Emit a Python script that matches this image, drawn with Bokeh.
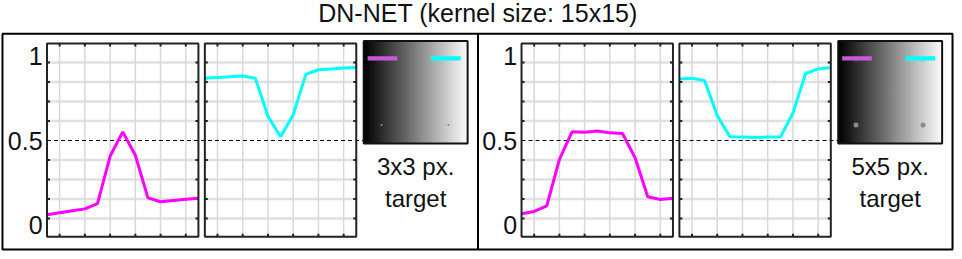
import numpy as np
from bokeh.plotting import figure
from bokeh.models import Range1d
from bokeh.core.properties import value
from bokeh.embed import file_html
from bokeh.resources import INLINE

# ---------------- data ----------------
title_text = "DN-NET (kernel size: 15x15)"
sample_idx = list(range(13))
magenta_3x3 = [0.062, 0.074, 0.086, 0.097, 0.128, 0.407, 0.551, 0.413, 0.162, 0.139, 0.146, 0.153, 0.160]
cyan_3x3 = [0.867, 0.872, 0.876, 0.880, 0.867, 0.643, 0.522, 0.651, 0.890, 0.917, 0.922, 0.927, 0.930]
magenta_5x5 = [0.068, 0.082, 0.114, 0.388, 0.551, 0.549, 0.556, 0.545, 0.541, 0.398, 0.168, 0.152, 0.160]
cyan_5x5 = [0.863, 0.867, 0.853, 0.647, 0.522, 0.520, 0.518, 0.520, 0.520, 0.662, 0.895, 0.922, 0.930]
ytick_values = [0, 0.5, 1]
ytick_labels = ["0", "0.5", "1"]
grid_y = [0.04, 0.155, 0.27, 0.385, 0.615, 0.73, 0.845, 0.96]
grid_x = [1, 3, 5, 7, 9, 11]
threshold = 0.5
target_labels = ["3x3 px.\ntarget", "5x5 px.\ntarget"]

# ---------------- layout (reference pixel space, y down) ----------------
CX0, CX1 = -1, 963          # canvas x extent
CY_TOP, CY_BOT = 2, 259      # canvas y extent (ref coords)
YD0, YD1 = -0.068, 1.072     # data value at panel bottom / top
XD0, XD1 = 0, 12

FONT = "Liberation Sans"

p = figure(width=954, height=251, output_backend="svg", toolbar_location=None,
           x_range=Range1d(CX0, CX1), y_range=Range1d(0, CY_BOT - CY_TOP),
           min_border=0, outline_line_color=None)
p.axis.visible = False
p.grid.visible = False


def cy(y):
    return CY_BOT - y


def add_panel_ranges(name, L, R, T, B):
    kx = (XD1 - XD0) / (R - L)
    p.extra_x_ranges[name] = Range1d(XD0 - (L - CX0) * kx, XD1 + (CX1 - R) * kx)
    cb, ct = cy(B), cy(T)
    ky = (YD1 - YD0) / (ct - cb)
    p.extra_y_ranges[name] = Range1d(YD0 - cb * ky, YD1 + ((CY_BOT - CY_TOP) - ct) * ky)


def draw_panel(name, L, R, T, B):
    add_panel_ranges(name, L, R, T, B)
    kw = dict(x_range_name=name, y_range_name=name)
    p.segment(x0=XD0, x1=XD1, y0=grid_y, y1=grid_y, line_color="#e0e0e0", line_width=2.5, **kw)
    p.segment(x0=grid_x, x1=grid_x, y0=YD0, y1=YD1, line_color="#d9d9d9", line_width=1.5, **kw)
    # ticks (inward)
    p.ray(x=[XD0] * len(grid_y), y=grid_y, length=3, length_units="screen", angle=0,
          line_color="#222222", line_width=2, **kw)
    p.ray(x=[XD1] * len(grid_y), y=grid_y, length=3, length_units="screen", angle=np.pi,
          line_color="#222222", line_width=2, **kw)
    p.ray(x=grid_x, y=[YD0] * len(grid_x), length=3, length_units="screen", angle=np.pi / 2,
          line_color="#222222", line_width=2, **kw)
    p.ray(x=grid_x, y=[YD1] * len(grid_x), length=3, length_units="screen", angle=-np.pi / 2,
          line_color="#222222", line_width=2, **kw)


def draw_line(name, values, color):
    p.line(sample_idx, values, line_color=color, line_width=3,
           x_range_name=name, y_range_name=name)


def draw_frame(L, R, T, B):
    p.quad(left=L, right=R, top=cy(T), bottom=cy(B), fill_color=None,
           line_color="#222222", line_width=2)


def draw_thumb(L, T, size, dot_size, center_alpha, label):
    grad = np.tile(np.linspace(0.0, 1.0, 128), (128, 1))
    p.image(image=[grad], x=L, y=cy(T + size), dw=size, dh=size,
            palette="Greys256", level="image")
    # targets
    tx = [L + 18, L + size - 19.3]
    p.scatter(x=tx, y=[cy(T + 86)] * 2, size=dot_size, marker="circle",
              fill_color="#8a8a8a", line_color=None)
    p.scatter(x=tx, y=[cy(T + 19.5)] * 2, size=dot_size, marker="circle",
              fill_color="#8a8a8a", line_color=None, fill_alpha=center_alpha)
    p.scatter(x=[L + size / 2], y=[cy(T + size / 2)], size=dot_size, marker="circle",
              fill_color="#8a8a8a", line_color=None, fill_alpha=center_alpha)
    # profile markers
    p.quad(left=L + 4, right=L + 34, top=cy(T + 15.5), bottom=cy(T + 20),
           fill_color="#cc55dd", line_color=None)
    p.quad(left=L + 68, right=L + 98, top=cy(T + 15.5), bottom=cy(T + 20),
           fill_color="#00ffff", line_color=None)
    p.quad(left=L, right=L + size, top=cy(T), bottom=cy(T + size), fill_color=None,
           line_color="#111111", line_width=2)
    p.text(x=[L + size / 2], y=[cy(T + size + 40)], text=[label], text_align="center",
           text_baseline="middle", text_font=value(FONT), text_font_size="24px",
           text_line_height=1.17, text_color="#111111")


PT, PB = 46, 244
halves = [
    dict(off=0, lines=(magenta_3x3, cyan_3x3), label=target_labels[0], dot=2.2, ca=0.0),
    dict(off=479.5, lines=(magenta_5x5, cyan_5x5), label=target_labels[1], dot=5, ca=0.15),
]

for i, h in enumerate(halves):
    o = h["off"]
    n1, n2 = f"a{i}", f"b{i}"
    draw_panel(n1, 46 + o, 199 + o, PT, PB)
    draw_panel(n2, 205.5 + o, 358.5 + o, PT, PB)
    # threshold dashed line
    p.segment(x0=46 + o, x1=366 + o, y0=threshold, y1=threshold, line_color="black",
              line_width=1, line_dash="4 3", y_range_name=n1)
    draw_line(n1, h["lines"][0], "#ff00ff")
    draw_line(n2, h["lines"][1], "#00ffff")
    draw_frame(46 + o, 199 + o, PT, PB)
    draw_frame(205.5 + o, 358.5 + o, PT, PB)
    draw_thumb(366 + o, 43.5, 105, h["dot"], h["ca"], h["label"])
    p.text(x=[41.5 + o] * 3, y=ytick_values, text=ytick_labels, y_range_name=n1,
           text_align="right", text_baseline="middle", text_font=value(FONT),
           text_font_size="25px", text_color="#111111")

# outer frame + divider
p.quad(left=1, right=961, top=cy(36), bottom=cy(257), fill_color=None,
       line_color="black", line_width=2)
p.segment(x0=[481.5], x1=[481.5], y0=[cy(36)], y1=[cy(257)], line_color="black", line_width=2)

# title
p.text(x=[481.5], y=[cy(15)], text=[title_text], text_align="center", text_baseline="middle",
       text_font=value(FONT), text_font_size="25px", text_color="#111111")

open("out.html", "w").write(file_html(p, INLINE))
